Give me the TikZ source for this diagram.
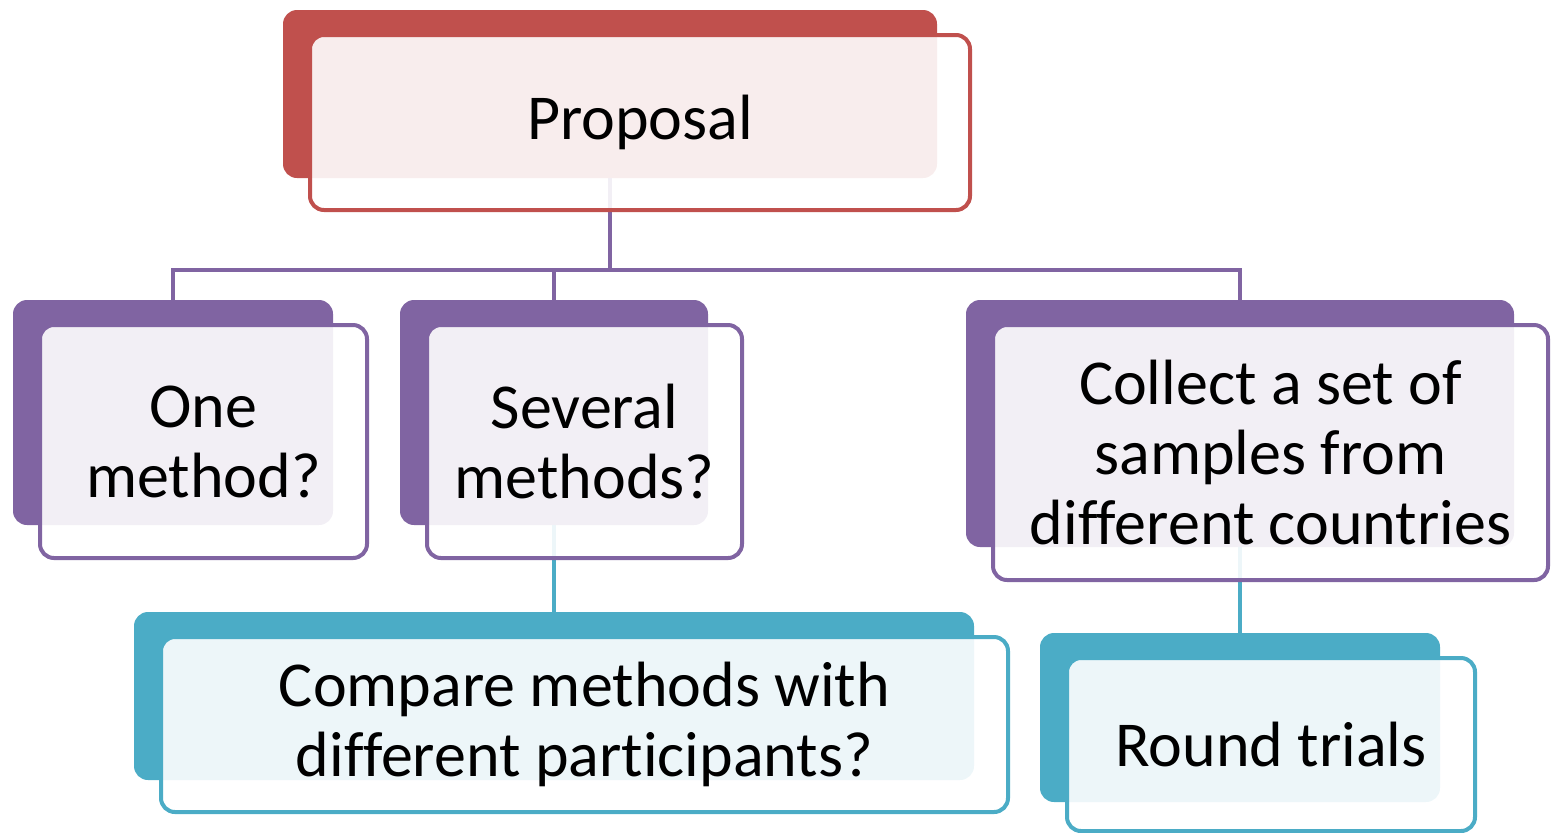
\documentclass[tikz,border=0pt]{standalone}
\usepackage{fontspec}
\setmainfont{Carlito}[Ligatures=NoCommon]
\usetikzlibrary{positioning}
\definecolor{propred}{HTML}{C0504D}
\definecolor{methpurple}{HTML}{8064A2}
\definecolor{trialteal}{HTML}{4BACC6}
\begin{document}
\begin{tikzpicture}[x=0.5pt,y=-0.5pt,
    back/.style={rectangle,rounded corners=7pt,fill=#1,inner sep=0pt,outer sep=0pt},
    front/.style={rectangle,rounded corners=7pt,draw=#1,line width=2pt,
      fill=white,fill opacity=0.9,text opacity=1,inner sep=0pt,outer sep=0pt,
      align=center,font=\fontsize{32}{35}\selectfont,
      anchor=north west,xshift=13.5pt,yshift=-12.5pt},
    link/.style={draw=#1,line width=2.25pt}]
    \useasboundingbox (0,0) rectangle (1552,832);

    % back plates
    \node[back=propred,minimum width=327pt,minimum height=84pt] (prop-b) at (610,94) {};
    \node[back=methpurple,minimum width=160pt,minimum height=112.5pt] (one-b) at (173,412.5) {};
    \node[back=methpurple,minimum width=154pt,minimum height=112.5pt] (sev-b) at (554,412.5) {};
    \node[back=methpurple,minimum width=274pt,minimum height=123.5pt] (coll-b) at (1240,423.5) {};
    \node[back=trialteal,minimum width=420pt,minimum height=84pt] (comp-b) at (554,696) {};
    \node[back=trialteal,minimum width=200pt,minimum height=84.5pt] (round-b) at (1240,717.5) {};

    % connectors
    \coordinate (bus) at (610,270);
    \draw[link=methpurple] (prop-b.south) -- (bus);
    \draw[link=methpurple] (bus) -| (one-b.north);
    \draw[link=methpurple] (bus) -| (sev-b.north);
    \draw[link=methpurple] (bus) -| (coll-b.north);
    \draw[link=trialteal] (sev-b.south) -- (comp-b.north);
    \draw[link=trialteal] (coll-b.south) -- (round-b.north);

    % front plates with text
    \node[front=propred,minimum width=330pt,minimum height=87.5pt] (prop) at (prop-b.north west) {Proposal};
    \node[front=methpurple,minimum width=163.5pt,minimum height=116.5pt] (one) at (one-b.north west) {One\\method?};
    \node[front=methpurple,minimum width=157.5pt,minimum height=116.5pt] (sev) at (sev-b.north west) {Several\\methods?};
    \node[front=methpurple,minimum width=277.5pt,minimum height=127.5pt] (coll) at (coll-b.north west) {Collect a set of\\samples from\\different countries};
    \node[front=trialteal,minimum width=423.5pt,minimum height=87.5pt] (comp) at (comp-b.north west) {Compare methods with\\different participants?};
    \node[front=trialteal,minimum width=204pt,minimum height=86.5pt] (round) at (round-b.north west) {Round trials};
\end{tikzpicture}
\end{document}
